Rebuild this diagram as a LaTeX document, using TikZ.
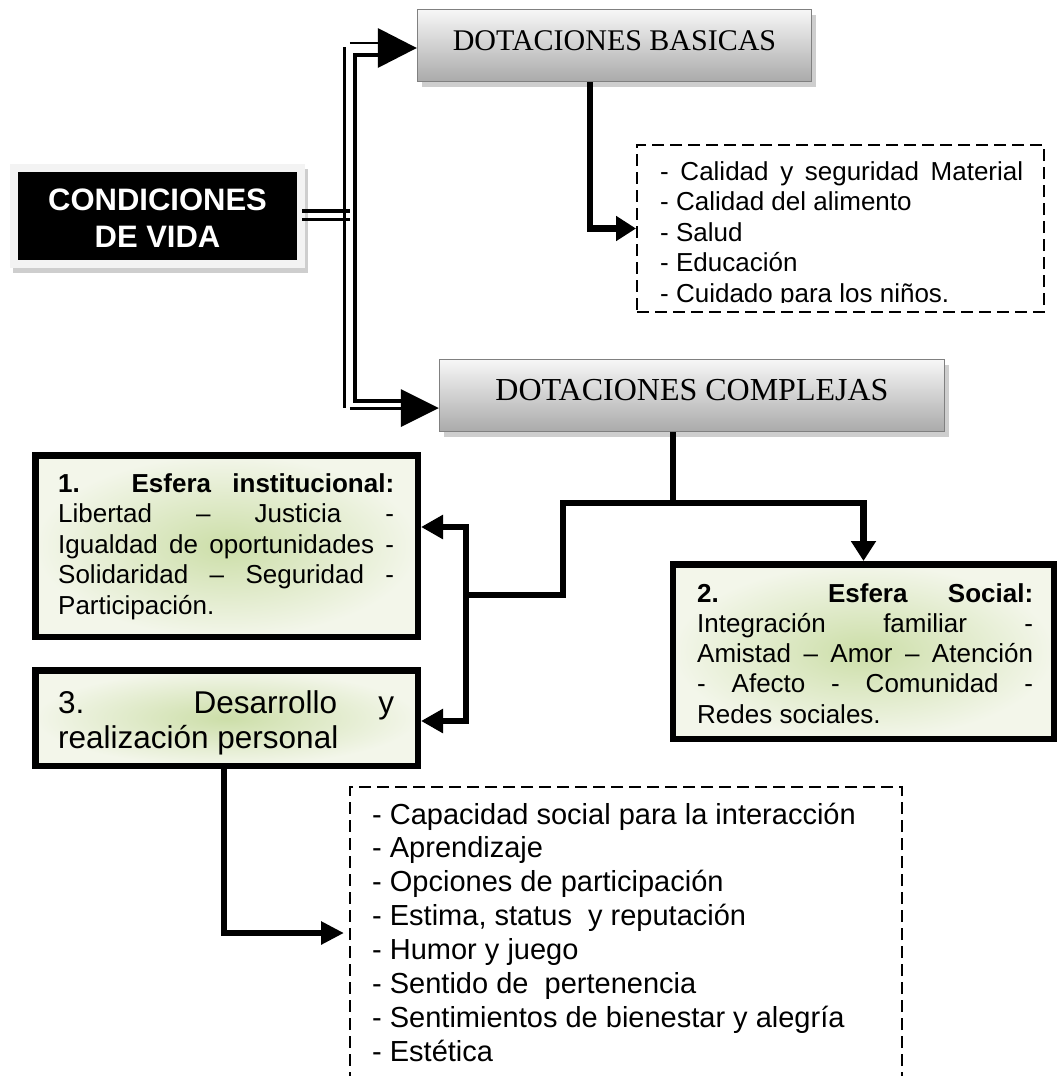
\documentclass[tikz,border=0pt]{standalone}
\usepackage{fontspec}
\setmainfont{Liberation Sans}
\newfontfamily\titlefont{Liberation Serif}
\usetikzlibrary{arrows.meta,shadows,calc}
\definecolor{gtop}{RGB}{247,247,247}
\definecolor{gbot}{RGB}{170,170,170}
\definecolor{gborder}{RGB}{128,128,128}
\definecolor{shad}{RGB}{206,206,206}
\definecolor{grin}{RGB}{204,222,168}
\definecolor{grout}{RGB}{243,246,234}
\definecolor{framegray}{RGB}{243,243,243}
\begin{document}
\begin{tikzpicture}[x=1pt,y=-1pt,
  graybox/.style={draw=gborder,line width=1.5pt,top color=gtop,bottom color=gbot,inner sep=0pt,
    drop shadow={shadow xshift=4pt,shadow yshift=-5pt,fill=shad,opacity=1}},
  greenbox/.style={draw=black,line width=6.5pt,inner color=grin,outer color=grout,inner sep=0pt},
  dashbox/.style={draw=black,line width=2pt,dash pattern=on 12pt off 6pt,inner sep=0pt},
  conn/.style={line width=6.5pt},
  tipto/.style={-{Triangle[length=20pt,width=24pt]}},
  dblthin/.style={line width=2.5pt},
  dblthick/.style={line width=4.5pt},
  bodytext/.style={anchor=base west,inner sep=0pt},
  titletext/.style={anchor=base,inner sep=0pt}]
\useasboundingbox (0,0) rectangle (1058,1076);
\fill[white] (0,0) rectangle (1058,1076);
\clip (0,0) rectangle (1058,1076);

% ---------- boxes ----------
\node[fill=framegray,minimum width=295pt,minimum height=104pt,inner sep=0pt,
  drop shadow={shadow xshift=3pt,shadow yshift=-5pt,fill=shad,opacity=1}] (cond) at (157.5,216) {};
\node[fill=black,minimum width=279pt,minimum height=88pt,inner sep=0pt] (condin) at (157.5,216) {};
\node[anchor=base,inner sep=0pt,text=white] (condt) at (157.5,210)
  {\parbox[t]{279pt}{\centering\bfseries\fontsize{31}{37}\selectfont CONDICIONES\\DE VIDA}};

\node[graybox,minimum width=394pt,minimum height=72pt] (db) at (614.5,45.5) {};
\node[titletext,font=\titlefont\fontsize{30}{30}\selectfont] (dbt) at (614.5,50.5) {DOTACIONES BASICAS};

\node[graybox,minimum width=505pt,minimum height=72pt] (dc) at (692,395.5) {};
\node[titletext,font=\titlefont\fontsize{32}{32}\selectfont] (dct) at (692,400) {DOTACIONES COMPLEJAS};

\node[dashbox,minimum width=407pt,minimum height=167pt] (d1) at (840.5,228.5) {};
\node[dashbox,minimum width=552pt,minimum height=303pt] (d2) at (626,938.5) {};

\node[greenbox,minimum width=382.5pt,minimum height=181.5pt] (b1) at (226.5,546) {};
\node[greenbox,minimum width=382.5pt,minimum height=95.5pt] (b3) at (226.5,718) {};
\node[greenbox,minimum width=381pt,minimum height=174.5pt] (b2) at (863.5,651.5) {};

% ---------- texts ----------
\node[bodytext] (b1t) at (58,492) {\parbox[t]{336pt}{\fontsize{26}{30.5}\selectfont
  \makebox[\linewidth][s]{\bfseries 1. Esfera institucional:}\\
  \makebox[\linewidth][s]{Libertad – Justicia -}\\
  \makebox[\linewidth][s]{Igualdad de oportunidades -}\\
  \makebox[\linewidth][s]{Solidaridad – Seguridad -}\\
  Participación.}};

\node[bodytext] (b3t) at (58,713) {\parbox[t]{336pt}{\fontsize{31.5}{35}\selectfont
  \makebox[\linewidth][s]{3. Desarrollo y}\\
  realización personal}};

\node[bodytext] (b2t) at (697,602) {\parbox[t]{336pt}{\fontsize{26}{30.3}\selectfont
  \makebox[\linewidth][s]{\bfseries 2. Esfera Social:}\\
  \makebox[\linewidth][s]{Integración familiar -}\\
  \makebox[\linewidth][s]{Amistad – Amor – Atención}\\
  \makebox[\linewidth][s]{- Afecto - Comunidad -}\\
  Redes sociales.}};

\begin{scope}
\clip ([xshift=2pt]d1.north west) rectangle ([xshift=-2pt,yshift=10.5pt]d1.south east);
\node[bodytext] (d1t) at (660,180) {\parbox[t]{380pt}{\fontsize{26}{30.5}\selectfont
  \makebox[363pt][s]{- Calidad y seguridad Material}\\
  - Calidad del alimento\\
  - Salud\\
  - Educación\\
  - Cuidado para los niños.}};
\end{scope}

\node[bodytext] (d2t) at (372,824) {\parbox[t]{520pt}{\fontsize{29}{33.9}\selectfont
  - Capacidad social para la interacción\\
  - Aprendizaje\\
  - Opciones de participación\\
  - Estima, status~ y reputación\\
  - Humor y juego\\
  - Sentido de~ pertenencia\\
  - Sentimientos de bienestar y alegría\\
  - Estética}};

% ---------- double-line connector from CONDICIONES ----------
\coordinate (spinethin) at (344.5,0);
\coordinate (spinethick) at (355,0);
\draw[line width=3.5pt] ([xshift=-3pt,yshift=5pt]cond.east) -- ++(48,0);
\draw[line width=3.5pt] ([xshift=-3pt,yshift=-3.5pt]cond.east) -- ++(48,0);
\draw[dblthin] (spinethin |- 0,47) -- (spinethin |- 0,407.5);
\draw[dblthin] ([xshift=-67pt,yshift=2.5pt]db.west) -- ([xshift=-38pt,yshift=2.5pt]db.west);
\draw[dblthin] ([xshift=-89pt,yshift=-13pt]dc.west) -- ([xshift=-37pt,yshift=-13pt]dc.west);
\draw[dblthick] ([xshift=-37pt,yshift=-9.5pt]db.west) -| (spinethick |- 0,401) -- ([xshift=-37pt,yshift=-5.5pt]dc.west);
\fill ([yshift=-2.5pt]db.west) -- ++(-39,-20) -- ++(0,40) -- cycle;
\fill ([yshift=-12.5pt]dc.west) -- ++(-38,-19) -- ++(0,38) -- cycle;

% ---------- thick connectors ----------
\draw[conn,tipto] ([xshift=-24.5pt]db.south) |- (d1.west);

\coordinate (tj) at (673,503);
\coordinate (tl) at (563,503);
\coordinate (bl) at (563,595);
\coordinate (lj) at (466,595);
\coordinate (vj1) at (466,527);
\coordinate (vj3) at (466,721);
\draw[conn] ([xshift=-19pt]dc.south) -- (tj);
\draw[conn,tipto] (lj) -- (bl) -- (tl) -| (b2.north);
\draw[conn,{Triangle[length=22pt,width=23pt]}-{Triangle[length=22pt,width=23pt]}]
  ([yshift=19pt]b1.east) -- (vj1) -- (vj3) -- ([yshift=-3pt]b3.east);

\draw[conn,-{Triangle[length=23pt,width=22pt]}] ([xshift=-2.5pt]b3.south) |- ([xshift=-5pt,yshift=5.5pt]d2.west);
\end{tikzpicture}
\end{document}
